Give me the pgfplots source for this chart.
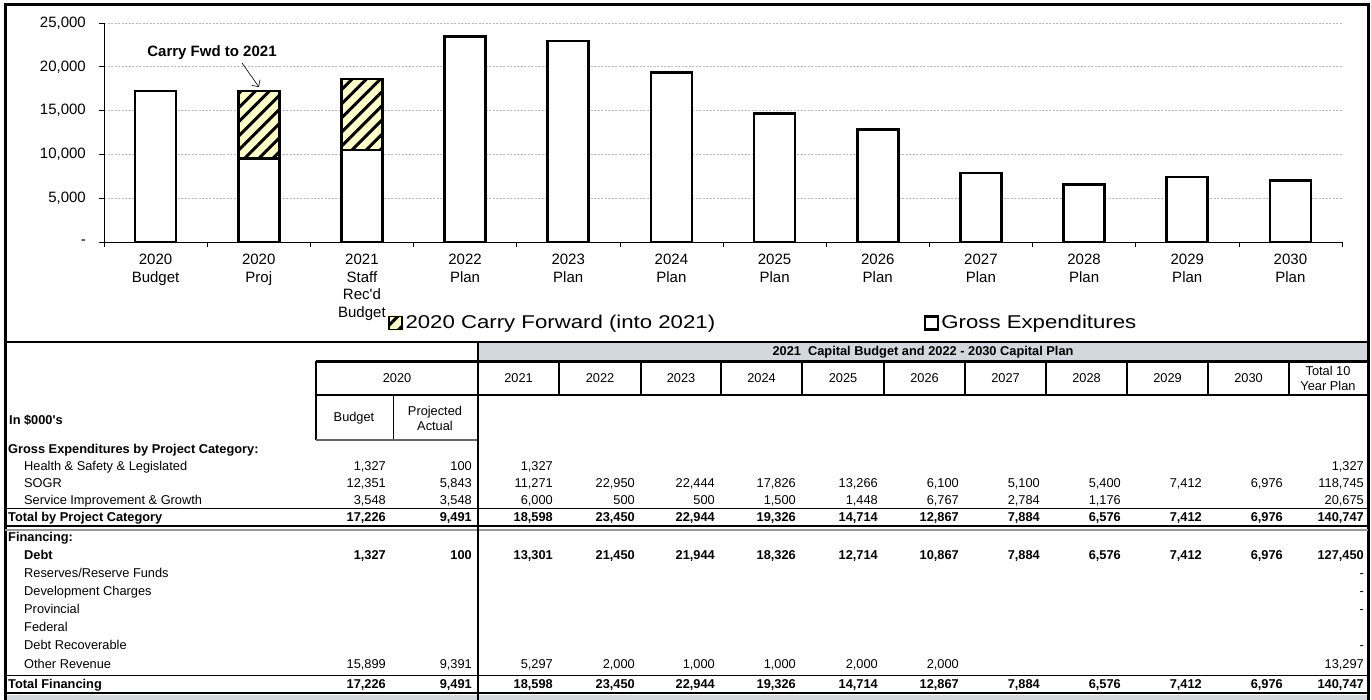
\documentclass[border=0pt]{standalone}
\usepackage{pgfplots}
\pgfplotsset{compat=1.18}
\usepackage{fontspec}
\setmainfont{Liberation Sans}
\newfontfamily\legendfont[FakeStretch=1.2]{Liberation Sans}
\usetikzlibrary{patterns.meta, arrows.meta}
\definecolor{cfy}{RGB}{255,255,204}
\definecolor{bandgray}{RGB}{211,215,222}
\definecolor{gridgray}{RGB}{185,185,185}
\newcommand{\tabfont}{\fontsize{12.8}{15}\selectfont}
\newcommand{\tabbold}{\bfseries\fontsize{12.8}{15}\selectfont}
\newcommand{\trow}[3]{%
  \foreach \v [count=\i from 0] in {#3} {
    \pgfmathsetmacro\xr{{386,472,553,635,715,796,878,959,1040,1121,1202,1283,1364}[\i]}
    \node[anchor=base east, inner sep=0pt, font=#2] at (\xr, #1+4.6) {\v};
  }}
\newcommand{\lab}[4]{\node[font=#3, anchor=base west, inner sep=0pt] at (#1,#2+4.6) {#4};}
\begin{document}
\begin{tikzpicture}
\useasboundingbox (0,0) rectangle (1371pt,-700pt);
\begin{axis}[
  at={(104pt,-242pt)}, anchor=south west,
  width=1238pt, height=219pt, scale only axis,
  xmin=-0.5, xmax=11.5, ymin=0, ymax=25000,
  clip=false, scaled y ticks=false,
  axis lines=left, axis line style={-, line width=0.8pt},
  xtick={0,...,11},
  xticklabels={{2020\\Budget},{2020\\Proj},{2021\\Staff\\Rec\textquotesingle d\\Budget},{2022\\Plan},{2023\\Plan},{2024\\Plan},{2025\\Plan},{2026\\Plan},{2027\\Plan},{2028\\Plan},{2029\\Plan},{2030\\Plan}},
  xticklabel style={align=center, font=\fontsize{15}{17.5}\selectfont, anchor=north, inner sep=0pt, yshift=-7pt},
  major x tick style={draw=none},
  minor xtick={-0.5,0.5,...,11.5},
  minor tick length=5pt,
  major tick length=5pt,
  tick align=outside,
  tick style={black, line width=0.6pt},
  ytick={0,5000,10000,15000,20000,25000},
  yticklabels={-,{5,000},{10,000},{15,000},{20,000},{25,000}},
  yticklabel style={font=\fontsize{15}{17}\selectfont, anchor=east, inner sep=0pt, xshift=-13pt},
  ymajorgrids, grid style={gridgray, dash pattern=on 2pt off 1.5pt, line width=0.6pt},
  legend style={at={(axis description cs:0.229,-0.37)}, anchor=west, draw=none, fill=none,
    legend columns=2, font=\legendfont\fontsize{18.5}{21}\selectfont,
    /tikz/every even column/.append style={column sep=207pt}, inner sep=0pt},
]
\addplot[ybar, bar width=41pt, bar shift=0pt, draw=none, fill=cfy, forget plot]
  coordinates {(1,17226) (2,18598)};
\addplot[ybar, bar width=41pt, bar shift=0pt, draw=black, line width=2.8pt,
  pattern={Lines[angle=45,distance=10pt,line width=3pt]}, pattern color=black,
  legend image code/.code={\fill[cfy] (0pt,-6.5pt) rectangle (13pt,6.5pt);
    \draw[line width=1.6pt, pattern={Lines[angle=45,distance=10pt,line width=3pt]}, pattern color=black] (0pt,-6.5pt) rectangle (13pt,6.5pt);}]
  coordinates {(1,17226) (2,18598)};
\addlegendentry{2020 Carry Forward (into 2021)}
\addplot[ybar, bar width=41pt, bar shift=0pt, draw=black, line width=2.8pt, fill=white,
  legend image code/.code={\draw[fill=white, line width=2.2pt] (0pt,-6.5pt) rectangle (13pt,6.5pt);}]
  coordinates {(0,17226) (1,9491) (2,10500) (3,23450) (4,22944) (5,19326) (6,14714) (7,12867) (8,7884) (9,6576) (10,7412) (11,6976)};
\addlegendentry{Gross Expenditures}
\node[font=\bfseries\fontsize{15}{17}\selectfont] at (axis cs:0.547,21575) {Carry Fwd to 2021};
\draw[-{Straight Barb[length=5pt]}, line width=0.6pt] (axis cs:0.838,20434) -- (axis cs:1.002,17694);
\end{axis}

\begin{scope}[x=1pt,y=-1pt]
% grey bands
\fill[bandgray] (478,343) rectangle (1368,361);
\fill[bandgray] (5,694.5) rectangle (1368,700);
\node[font=\tabbold] at (923,352) {2021\ \ Capital Budget and 2022 - 2030 Capital Plan};
% outer frame
\draw[line width=3pt] (5,700) -- (5,5) -- (1368,5) -- (1368,700);
\draw[line width=2.5pt] (5,342) -- (1368,342);
% header lines
\draw[line width=2.2pt] (316,361.5) -- (1368,361.5);
\foreach \xx in {559,641,721,802,884,965,1046,1127,1208,1289} \draw[line width=1.4pt] (\xx,361.5) -- (\xx,395);
\draw[line width=1.8pt] (316,395) -- (1368,395);
\draw[line width=1.4pt] (316,361.5) -- (316,440);
\draw[line width=1pt] (393,395) -- (393,440);
\draw[line width=1pt, black!60] (316,440) -- (478,440);
% body lines
\draw[line width=1pt] (5,508) -- (1368,508);
\draw[line width=2pt] (5,526) -- (1368,526);
\draw[line width=2pt, black!40] (5,529.5) -- (1368,529.5);
\draw[line width=1pt] (5,675) -- (1368,675);
\draw[line width=2.5pt] (5,693) -- (1368,693);
\draw[line width=2.2pt] (478,342) -- (478,700);
% header texts
\node[font=\tabfont] at (397,378) {2020};
\foreach \yy/\xc in {2021/518.5,2022/600,2023/681,2024/761.5,2025/843,2026/924.5,2027/1005.5,2028/1086.5,2029/1167.5,2030/1248.5}
  \node[font=\tabfont] at (\xc,378) {\yy};
\node[font=\tabfont, align=center] at (1328,378) {Total 10\\Year Plan};
\node[font=\tabfont] at (354,418) {Budget};
\node[font=\tabfont, align=center] at (435,418) {Projected\\Actual};
% left labels
\lab{9}{420}{\tabbold}{In \$000\textquotesingle s}
\lab{8}{449}{\tabbold}{Gross Expenditures by Project Category:}
\lab{24}{466}{\tabfont}{Health \& Safety \& Legislated}
\lab{24}{483}{\tabfont}{SOGR}
\lab{24}{500}{\tabfont}{Service Improvement \& Growth}
\lab{8}{517}{\tabbold}{Total by Project Category}
\lab{8}{537}{\tabbold}{Financing:}
\lab{24}{555}{\tabbold}{Debt}
\lab{24}{573}{\tabfont}{Reserves/Reserve Funds}
\lab{24}{591}{\tabfont}{Development Charges}
\lab{24}{609}{\tabfont}{Provincial}
\lab{24}{627}{\tabfont}{Federal}
\lab{24}{645}{\tabfont}{Debt Recoverable}
\lab{24}{664}{\tabfont}{Other Revenue}
\lab{8}{684}{\tabbold}{Total Financing}
% values
\trow{466}{\tabfont}{{1,327},{100},{1,327},{},{},{},{},{},{},{},{},{},{1,327}}
\trow{483}{\tabfont}{{12,351},{5,843},{11,271},{22,950},{22,444},{17,826},{13,266},{6,100},{5,100},{5,400},{7,412},{6,976},{118,745}}
\trow{500}{\tabfont}{{3,548},{3,548},{6,000},{500},{500},{1,500},{1,448},{6,767},{2,784},{1,176},{},{},{20,675}}
\trow{517}{\tabbold}{{17,226},{9,491},{18,598},{23,450},{22,944},{19,326},{14,714},{12,867},{7,884},{6,576},{7,412},{6,976},{140,747}}
\trow{555}{\tabbold}{{1,327},{100},{13,301},{21,450},{21,944},{18,326},{12,714},{10,867},{7,884},{6,576},{7,412},{6,976},{127,450}}
\node[font=\tabfont, anchor=base east, inner sep=0pt] at (1364,577.6) {-};
\node[font=\tabfont, anchor=base east, inner sep=0pt] at (1364,595.6) {-};
\node[font=\tabfont, anchor=base east, inner sep=0pt] at (1364,613.6) {-};
\node[font=\tabfont, anchor=base east, inner sep=0pt] at (1364,649.6) {-};
\trow{664}{\tabfont}{{15,899},{9,391},{5,297},{2,000},{1,000},{1,000},{2,000},{2,000},{},{},{},{},{13,297}}
\trow{684}{\tabbold}{{17,226},{9,491},{18,598},{23,450},{22,944},{19,326},{14,714},{12,867},{7,884},{6,576},{7,412},{6,976},{140,747}}
\end{scope}
\end{tikzpicture}
\end{document}
